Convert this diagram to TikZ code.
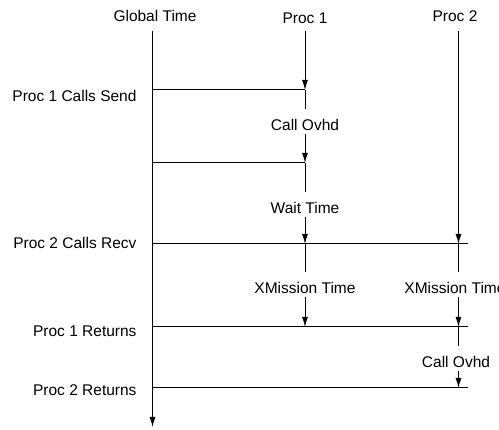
\documentclass[tikz,border=0pt]{standalone}
\usepackage{fontspec}
\setmainfont{Liberation Sans}
\usetikzlibrary{arrows.meta}

\begin{document}
\begin{tikzpicture}[x=1pt,y=-1pt,>={Latex[length=10pt,width=6pt]},line width=1pt,
	every node/.style={font=\fontsize{15.5}{18}\selectfont},
	evt/.style={anchor=east,inner sep=0pt},
	gap/.style={anchor=base,text height=18pt,text depth=0pt,inner ysep=2.75pt,inner xsep=0pt}]

\def\g{152.5}
\def\pa{305}
\def\pb{458.5}
\def\e{468}

\useasboundingbox (0,0) rectangle (499,430);

% column heads
\node (gt) at (155,16) {Global Time};
\node (p1) at (\pa,18) {Proc 1};
\node (p2) at (455,16) {Proc 2};

% events on the time axis
\coordinate (g0) at (\g,31);
\coordinate (g1) at (\g,90);
\coordinate (g2) at (\g,163);
\coordinate (g3) at (\g,244);
\coordinate (g4) at (\g,327);
\coordinate (g5) at (\g,388);
\coordinate (gend) at (\g,427);

\coordinate (a0) at (\pa,31);
\coordinate (a1) at (\pa,90);
\coordinate (a2) at (\pa,163);
\coordinate (a3) at (\pa,244);
\coordinate (a4) at (\pa,327);

\coordinate (b0) at (\pb,31);
\coordinate (b3) at (\pb,244);
\coordinate (b4) at (\pb,327);
\coordinate (b5) at (\pb,388);

\coordinate (e3) at (\e,244);
\coordinate (e4) at (\e,327);
\coordinate (e5) at (\e,388);

\node[evt] (send) at (137,96) {Proc 1 Calls Send};
\node[evt] (recv) at (137,243) {Proc 2 Calls Recv};
\node[evt] (ret1) at (137,331) {Proc 1 Returns};
\node[evt] (ret2) at (137,390) {Proc 2 Returns};

% interval labels
\node[gap] (ovhd1) at (\pa,130.5) {Call Ovhd};
\node[gap] (wait) at (\pa,213.5) {Wait Time};
\node[gap] (xm1) at (\pa,293.5) {XMission Time};
\node[gap] (xm2) at (455,293.5) {XMission Time};
\node[gap] (ovhd2) at (456,367.5) {Call Ovhd};

\draw[->] (g0) -- (gend);
\draw (g1) -- (a1);
\draw (g2) -- (a2);
\draw (g3) -- (e3);
\draw (g4) -- (e4);
\draw (g5) -- (e5);

% Proc 1
\draw[->] (a0) -- (a1);
\draw (a1) -- (ovhd1.north);
\draw[->] (ovhd1.south) -- (a2);
\draw (a2) -- (wait.north);
\draw[->] (wait.south) -- (a3);
\draw (a3) -- (xm1.north);
\draw[->] (xm1.south) -- (a4);

% Proc 2
\draw[->] (b0) -- (b3);
\draw (b3) -- (b3 |- xm2.north);
\draw[->] (b3 |- xm2.south) -- (b4);
\draw (b4) -- (b4 |- ovhd2.north);
\draw[->] (b4 |- ovhd2.south) -- (b5);

\end{tikzpicture}
\end{document}
